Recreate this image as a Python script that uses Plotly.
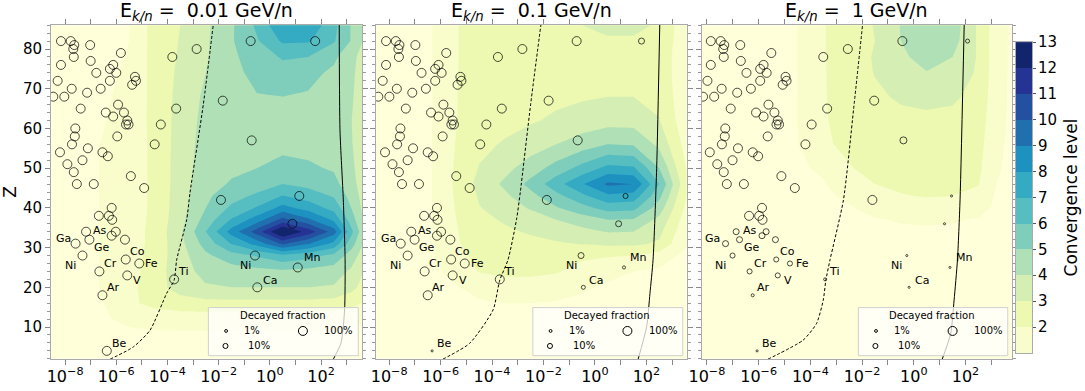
import plotly.graph_objects as go

# ---- contour grids: log10(t_1/2 / Myr) and Z ----
GRID_LOGT = [-8.6, -7.5, -6.5, -5.5, -4.5, -3.5, -2.5, -1.5, -0.5, 0.5, 1.5, 2.5, 3.2, 3.9]
GRID_LOGT_1GEV = [-8.3, -7.5, -6.5, -5.5, -4.5, -3.5, -2.5, -1.5, -0.5, 0.5, 1.5, 2.5, 3.2, 3.9]
GRID_Z = [2, 8, 12, 16, 20, 24, 28, 31, 34, 37, 40, 43, 46, 50, 56, 62, 68, 74, 78, 82, 86]

# convergence level, one row per GRID_Z value
LEVEL_001 = [
    [0.5, 0.5, 0.55, 0.6, 0.6, 0.6, 0.6, 0.6, 0.6, 0.6, 0.6, 0.6, 0.6, 0.5],
    [0.55, 0.6, 0.7, 0.8, 0.85, 0.85, 0.85, 0.85, 0.85, 0.85, 0.85, 0.85, 0.8, 0.7],
    [0.6, 0.7, 0.9, 1.2, 1.35, 1.4, 1.4, 1.4, 1.4, 1.4, 1.4, 1.4, 1.3, 1.0],
    [0.6, 0.75, 1.0, 1.8, 2.3, 2.6, 2.7, 2.7, 2.7, 2.7, 2.7, 2.6, 2.3, 1.7],
    [0.6, 0.75, 1.05, 1.7, 2.6, 3.4, 3.9, 4.0, 4.0, 4.0, 4.0, 3.9, 3.3, 2.3],
    [0.6, 0.75, 1.05, 1.6, 2.5, 3.6, 4.3, 4.5, 4.7, 4.8, 4.7, 4.5, 3.8, 2.6],
    [0.6, 0.75, 1.05, 1.55, 2.4, 3.6, 4.8, 5.6, 6.1, 6.8, 6.35, 5.75, 4.5, 3.0],
    [0.6, 0.75, 1.05, 1.5, 2.3, 3.7, 5.4, 7.05, 8.4, 10.2, 9.1, 7.7, 5.4, 3.2],
    [0.6, 0.75, 1.05, 1.5, 2.3, 3.8, 6.0, 8.4, 10.5, 13.3, 11.6, 9.5, 6.2, 3.3],
    [0.6, 0.75, 1.05, 1.5, 2.25, 3.65, 5.4, 7.1, 8.5, 10.35, 9.2, 7.8, 5.45, 3.2],
    [0.6, 0.75, 1.05, 1.5, 2.2, 3.6, 5.0, 6.2, 7.1, 8.35, 7.6, 6.65, 4.95, 3.1],
    [0.6, 0.75, 1.05, 1.5, 2.2, 3.55, 4.8, 5.6, 6.2, 7.05, 6.55, 5.9, 4.6, 3.1],
    [0.6, 0.75, 1.05, 1.5, 2.2, 3.5, 4.6, 5.1, 5.45, 6.0, 5.7, 5.3, 4.35, 3.05],
    [0.6, 0.75, 1.05, 1.5, 2.2, 3.5, 4.5, 4.8, 5.0, 5.3, 5.15, 4.9, 4.2, 3.0],
    [0.6, 0.75, 1.05, 1.5, 2.2, 3.45, 4.4, 4.6, 4.6, 4.75, 4.7, 4.6, 4.05, 3.0],
    [0.55, 0.7, 0.95, 1.45, 2.25, 3.4, 4.3, 4.55, 4.6, 4.6, 4.6, 4.55, 4.0, 3.0],
    [0.55, 0.65, 0.85, 1.3, 2.3, 3.3, 4.2, 4.6, 4.95, 5.0, 4.9, 4.6, 4.1, 3.1],
    [0.5, 0.6, 0.8, 1.15, 2.35, 3.2, 4.0, 4.7, 5.3, 5.6, 5.3, 4.8, 4.2, 3.1],
    [0.5, 0.6, 0.75, 1.05, 2.4, 3.1, 3.9, 4.8, 5.5, 6.1, 6.0, 5.2, 4.3, 3.2],
    [0.5, 0.6, 0.7, 1.0, 2.4, 3.05, 3.85, 4.9, 5.9, 7.15, 7.1, 6.1, 4.9, 3.4],
    [0.5, 0.6, 0.7, 0.95, 2.45, 3.0, 3.8, 4.85, 6.2, 7.9, 7.8, 6.3, 4.9, 3.5],
]

LEVEL_01 = [
    [0.6, 0.6, 0.6, 0.6, 0.6, 0.6, 0.6, 0.6, 0.6, 0.6, 0.6, 0.6, 0.6, 0.6],
    [0.65, 0.65, 0.65, 0.65, 0.65, 0.65, 0.65, 0.65, 0.65, 0.65, 0.65, 0.65, 0.65, 0.65],
    [0.7, 0.7, 0.7, 0.7, 0.7, 0.7, 0.7, 0.7, 0.7, 0.7, 0.7, 0.7, 0.7, 0.7],
    [0.7, 0.7, 0.7, 0.75, 0.9, 1.0, 1.0, 0.95, 0.85, 0.8, 0.75, 0.7, 0.7, 0.7],
    [0.7, 0.7, 0.7, 0.9, 1.3, 1.5, 1.5, 1.3, 1.1, 0.9, 0.8, 0.75, 0.7, 0.7],
    [0.7, 0.7, 0.75, 1.2, 2.05, 2.25, 2.25, 2.1, 1.6, 1.2, 1.0, 0.85, 0.75, 0.7],
    [0.7, 0.7, 0.8, 1.6, 2.3, 2.4, 2.4, 2.35, 2.2, 2.1, 2.0, 1.6, 1.0, 0.75],
    [0.7, 0.7, 0.8, 1.8, 2.5, 2.6, 2.75, 2.9, 3.05, 3.2, 3.2, 2.85, 1.6, 0.8],
    [0.7, 0.7, 0.8, 1.85, 2.6, 2.85, 3.1, 3.4, 3.7, 4.05, 4.0, 3.25, 1.9, 0.85],
    [0.7, 0.7, 0.8, 1.9, 2.75, 3.1, 3.5, 4.0, 4.5, 5.0, 4.9, 3.75, 2.2, 0.9],
    [0.7, 0.7, 0.8, 1.95, 2.95, 3.45, 4.1, 4.9, 5.65, 6.4, 6.3, 4.5, 2.6, 1.0],
    [0.7, 0.7, 0.8, 2.0, 3.1, 3.8, 4.7, 5.7, 6.75, 7.8, 7.6, 5.25, 3.0, 1.1],
    [0.7, 0.7, 0.8, 2.05, 3.3, 4.2, 5.3, 6.6, 7.9, 9.2, 9.0, 6.0, 3.4, 1.2],
    [0.7, 0.7, 0.8, 2.0, 3.05, 3.7, 4.5, 5.4, 6.35, 7.3, 7.15, 5.0, 2.9, 1.1],
    [0.7, 0.7, 0.8, 1.95, 2.75, 3.1, 3.5, 4.0, 4.5, 5.0, 4.9, 3.75, 2.3, 0.95],
    [0.7, 0.7, 0.8, 1.9, 2.55, 2.7, 2.9, 3.15, 3.4, 3.6, 3.6, 3.05, 1.9, 0.85],
    [0.7, 0.7, 0.8, 1.9, 2.5, 2.55, 2.65, 2.8, 2.9, 3.0, 3.0, 2.7, 1.8, 0.8],
    [0.7, 0.7, 0.8, 1.9, 2.45, 2.5, 2.5, 2.55, 2.6, 2.7, 2.7, 2.55, 1.75, 0.8],
    [0.7, 0.7, 0.8, 1.9, 2.4, 2.45, 2.5, 2.55, 2.6, 2.7, 2.7, 2.55, 1.75, 0.8],
    [0.7, 0.7, 0.8, 1.9, 2.4, 2.45, 2.5, 2.6, 2.75, 2.9, 2.9, 2.7, 1.8, 0.8],
    [0.7, 0.7, 0.8, 1.9, 2.4, 2.45, 2.55, 2.7, 3.0, 3.2, 3.2, 2.9, 1.85, 0.8],
]

LEVEL_1 = [
    [0.6, 0.6, 0.6, 0.6, 0.6, 0.6, 0.6, 0.6, 0.6, 0.6, 0.6, 0.6, 0.6, 0.6],
    [0.65, 0.65, 0.65, 0.65, 0.65, 0.65, 0.65, 0.65, 0.65, 0.65, 0.65, 0.65, 0.65, 0.65],
    [0.7, 0.7, 0.7, 0.7, 0.7, 0.7, 0.7, 0.7, 0.7, 0.7, 0.7, 0.7, 0.7, 0.7],
    [0.7, 0.7, 0.7, 0.7, 0.7, 0.7, 0.7, 0.7, 0.7, 0.7, 0.7, 0.7, 0.7, 0.7],
    [0.7, 0.7, 0.7, 0.7, 0.7, 0.7, 0.7, 0.7, 0.7, 0.7, 0.7, 0.7, 0.7, 0.7],
    [0.7, 0.7, 0.7, 0.7, 0.7, 0.7, 0.7, 0.7, 0.7, 0.7, 0.7, 0.7, 0.7, 0.7],
    [0.7, 0.7, 0.7, 0.7, 0.7, 0.7, 0.7, 0.7, 0.7, 0.7, 0.7, 0.7, 0.7, 0.7],
    [0.7, 0.7, 0.7, 0.7, 0.7, 0.7, 0.75, 0.75, 0.8, 0.8, 0.8, 0.75, 0.7, 0.7],
    [0.7, 0.7, 0.7, 0.7, 0.7, 0.75, 0.8, 0.85, 0.9, 0.9, 0.9, 0.85, 0.75, 0.7],
    [0.7, 0.7, 0.7, 0.7, 0.75, 0.8, 0.85, 0.95, 1.05, 1.1, 1.05, 0.95, 0.8, 0.7],
    [0.7, 0.7, 0.7, 0.75, 0.8, 0.85, 0.95, 1.2, 1.5, 1.6, 1.5, 1.3, 0.85, 0.7],
    [0.7, 0.7, 0.7, 0.75, 0.8, 0.9, 1.1, 1.6, 1.95, 2.05, 2.0, 1.7, 0.9, 0.7],
    [0.7, 0.7, 0.7, 0.8, 0.85, 0.95, 1.4, 2.0, 2.15, 2.2, 2.15, 2.05, 1.0, 0.7],
    [0.7, 0.7, 0.7, 0.8, 0.9, 1.1, 1.95, 2.2, 2.35, 2.4, 2.35, 2.2, 1.1, 0.75],
    [0.7, 0.7, 0.7, 0.8, 0.95, 1.9, 2.15, 2.4, 2.55, 2.6, 2.55, 2.35, 1.2, 0.75],
    [0.7, 0.7, 0.7, 0.8, 1.0, 1.95, 2.2, 2.5, 2.7, 2.8, 2.75, 2.5, 1.3, 0.75],
    [0.7, 0.7, 0.7, 0.8, 1.0, 1.95, 2.3, 2.8, 3.15, 3.25, 3.15, 2.7, 1.35, 0.75],
    [0.7, 0.7, 0.7, 0.8, 1.0, 1.95, 2.35, 3.05, 3.55, 3.95, 3.65, 2.85, 1.4, 0.75],
    [0.7, 0.7, 0.7, 0.8, 1.0, 1.95, 2.4, 3.1, 3.8, 4.4, 4.0, 2.9, 1.4, 0.75],
    [0.7, 0.7, 0.7, 0.8, 1.0, 1.95, 2.45, 3.0, 4.0, 4.7, 4.4, 2.85, 1.4, 0.75],
    [0.7, 0.7, 0.7, 0.8, 1.0, 1.95, 2.5, 3.05, 4.05, 4.9, 4.55, 2.85, 1.45, 0.75],
]

# ---- radioactive isotopes (half-life in Myr, log10) ----
ISO_LOGT = [
    -8.16, -7.78, -7.64, -7.68, -7.02, -7.66, -5.82, -8.16, -7.00, -6.12,
    -6.25, -6.78, -6.00, -8.29, -6.25, -5.27, -5.23, -5.38, -7.74, -6.61,
    -8.46, -8.03, -7.14, -7.39, -5.93, -6.41, -6.12, -5.70, -5.57, -5.62,
    -5.52, -7.60, -3.81, -2.86, -3.66, -4.26, -5.96, -7.62, -7.73, -7.11,
    -6.54, -6.33, -8.20, -7.32, -7.91, -7.66, -4.50, -5.43, -4.91, -7.54,
    -6.88, -6.18, -6.68, -6.29, -6.16, -7.18, -6.02, -6.18, -5.66, -7.59,
    -7.05, -7.32, -5.63, -5.10, -6.66, -5.57, -6.54, -3.74, -6.37, -1.91,
    -0.75, 1.77, -1.84, -0.71, 1.15, 0.88, -0.58, -0.49, 1.09,
]
ISO_Z = [
    82, 82, 81, 80, 81, 78, 79, 76, 77, 76,
    75, 74, 74, 72, 72, 73, 72, 71, 70, 70,
    68, 68, 69, 65, 66, 64, 63, 64, 62, 61,
    61, 60, 78, 80, 65, 61, 58, 58, 56, 55,
    54, 53, 54, 52, 51, 49, 56, 48, 45, 46,
    46, 40, 38, 38, 37, 34, 34, 33, 32, 31,
    32, 28, 27, 26, 24, 23, 18, 22, 4, 42,
    82, 82, 67, 57, 43, 36, 28, 20, 25,
]
# decayed fraction of each isotope at the three energies
DECAYED_001 = [
    1, 1, 1, 1, 1, 1, 1, 1, 1, 1,
    1, 1, 1, 1, 1, 1, 1, 1, 1, 1,
    1, 1, 1, 1, 1, 1, 1, 1, 1, 1,
    1, 1, 1, 1, 1, 1, 1, 1, 1, 1,
    1, 1, 1, 1, 1, 1, 1, 1, 1, 1,
    1, 1, 1, 1, 1, 1, 1, 1, 1, 1,
    1, 1, 1, 1, 1, 1, 1, 1, 1, 1,
    1, 1, 1, 1, 1, 1, 1, 1, 1,
]
DECAYED_01 = [
    1, 1, 1, 1, 1, 1, 1, 1, 1, 1,
    1, 1, 1, 1, 1, 1, 1, 1, 1, 1,
    1, 1, 1, 1, 1, 1, 1, 1, 1, 1,
    1, 1, 1, 1, 1, 1, 1, 1, 1, 1,
    1, 1, 1, 1, 1, 1, 1, 1, 1, 1,
    1, 1, 1, 1, 1, 1, 1, 1, 1, 1,
    1, 1, 1, 1, 1, 1, 1, 1, 0.003, 1,
    1, 0.2, 1, 1, 0.1, 0.2, 0.2, 0.04, 0.015,
]
DECAYED_1 = [
    1, 1, 1, 1, 1, 1, 1, 1, 1, 1,
    1, 1, 1, 1, 1, 1, 1, 1, 1, 1,
    1, 1, 1, 1, 1, 1, 1, 1, 1, 1,
    1, 1, 1, 1, 1, 1, 1, 1, 1, 1,
    1, 1, 1, 1, 1, 1, 1, 1, 1, 1,
    1, 1, 1, 1, 1, 0.2, 0.2, 0.2, 0.2, 0.2,
    0.2, 0.1, 0.1, 0.1, 0.1, 0.1, 0.012, 0.012, 0.003, 1,
    1, 0.04, 1, 0.37, 0.003, 0.003, 0.003, 0.003, 0.003,
]

LABEL_TEXT = ["Ga", "As", "Ge", "Co", "Ni", "Cr", "Fe", "V", "Ar", "Ti", "Be", "Ni", "Ca", "Mn"]
LABEL_LOGT = [-8.08, -6.63, -6.57, -5.19, -7.80, -6.24, -4.61, -5.18, -6.11, -3.38, -5.89, -0.97, 0.0, 1.64]
LABEL_Z = [32.2, 34.2, 30.1, 29.0, 25.6, 26.0, 26.0, 21.8, 20.0, 23.9, 5.9, 25.6, 21.8, 27.5]

# log10 of the time dilation at each energy
LOG_GAMMA = [0.0, 0.04, 0.31]

# boundary curves
DASH_LOGT = [
    [-6.24, -5.33, -4.68, -4.03, -3.74, -3.64, -3.25, -3.12, -2.6, -2.21],
    [-5.91, -4.87, -3.96, -3.70, -3.38, -3.05, -2.9, -2.5, -2.1],
    [-5.64, -4.28, -3.76, -3.5, -3.4, -3.24, -2.72, -2.33, -1.98],
]
DASH_Z = [
    [1.9, 5.0, 9.2, 18.5, 21.8, 26.9, 37, 43.8, 66, 86.1],
    [1.9, 5.9, 14.3, 21.8, 26.9, 37, 44, 66, 86.1],
    [1.9, 6.7, 10.9, 16.8, 21.8, 26.9, 42, 64.7, 86.1],
]
SOLID_LOGT = [
    [2.48, 2.78, 2.92, 2.94, 2.87, 2.74, 2.71],
    [1.68, 2.01, 2.14, 2.26, 2.40, 2.52],
    [1.10, 1.43, 1.56, 1.69, 1.79, 1.95],
]
SOLID_Z = [
    [1.9, 6.0, 14.3, 26.9, 42, 59.6, 86.1],
    [1.9, 10.1, 18.5, 26.9, 50, 86.1],
    [1.9, 8.4, 16.8, 26.9, 42, 86.1],
]

ENERGIES = ["0.01", "0.1", "1"]
LEGEND_FRACTIONS = [0.01, 0.1, 1.0]
LEGEND_LABELS = ["1%", "10%", "100%"]
CBAR_TICKS = [2, 3, 4, 5, 6, 7, 8, 9, 10, 11, 12, 13]

# YlGnBu bands: index 0 = below level 1, index k = band [k, k+1]
BAND_COLORS = ["#ffffd9", "#f9fdcc", "#edf8b1", "#d4eeb3", "#afe0b6", "#7fcdbb", "#56bec1",
               "#35aac3", "#1d91c0", "#2070b0", "#2350a1", "#253494", "#12256c"]

FONT = "DejaVu Sans"
W, H = 1085, 391
PANEL_PX = [(51, 362), (375.5, 686.5), (701.5, 1011.5)]
X_RANGES = [[-8.55, 3.6], [-8.53, 3.56], [-8.21, 3.78]]
Y_RANGE = [1.95, 86.05]
Y_DOM = [(H - 359) / H, (H - 25) / H]

def marker_d(f):
    return 9 * f ** 0.25

# contour colorscale so that band k is coloured at k/13 (plotly fill rule)
contour_scale = [[k / 13, c] for k, c in enumerate(BAND_COLORS)] + [[1.0, BAND_COLORS[-1]]]

fig = go.Figure()
grids = [GRID_LOGT, GRID_LOGT, GRID_LOGT_1GEV]
levels = [LEVEL_001, LEVEL_01, LEVEL_1]
decayed = [DECAYED_001, DECAYED_01, DECAYED_1]
shapes = []
annotations = []

for p in range(3):
    sfx = "" if p == 0 else str(p + 1)
    xa, ya = "x" + sfx, "y" + sfx
    fig.add_trace(go.Contour(
        x=grids[p], y=GRID_Z, z=levels[p], xaxis=xa, yaxis=ya,
        autocontour=False,
        contours=dict(start=1, end=13, size=1, coloring="fill", showlines=False),
        colorscale=contour_scale, showscale=False, line=dict(width=0, smoothing=0),
        hoverinfo="skip",
    ))
    fig.add_trace(go.Scatter(
        x=DASH_LOGT[p], y=DASH_Z[p], xaxis=xa, yaxis=ya, mode="lines",
        line=dict(color="black", width=1, dash="3px,2px", shape="spline", smoothing=0.6),
        showlegend=False, hoverinfo="skip",
    ))
    fig.add_trace(go.Scatter(
        x=SOLID_LOGT[p], y=SOLID_Z[p], xaxis=xa, yaxis=ya, mode="lines",
        line=dict(color="black", width=1, shape="spline", smoothing=0.6),
        showlegend=False, hoverinfo="skip",
    ))
    fig.add_trace(go.Scatter(
        x=[v + LOG_GAMMA[p] for v in ISO_LOGT], y=ISO_Z, xaxis=xa, yaxis=ya, mode="markers",
        marker=dict(symbol="circle-open", color="black", size=[marker_d(f) for f in decayed[p]],
                    line=dict(width=1, color="black")),
        showlegend=False, hoverinfo="skip",
    ))
    for t, lx, lz in zip(LABEL_TEXT, LABEL_LOGT, LABEL_Z):
        annotations.append(dict(x=lx + LOG_GAMMA[p], y=lz, xref=xa, yref=ya, text=t,
                                xanchor="center", yanchor="middle",
                                showarrow=False, font=dict(size=11, color="black")))

    x0, x1 = PANEL_PX[p]
    cx = (x0 + x1) / 2 / W
    # panel title
    annotations.append(dict(
        x=cx, y=(H - 12) / H, xref="paper", yref="paper", xanchor="center", yanchor="middle",
        text="E<sub><i>k/n</i></sub> =\u00a0\u00a0" + ENERGIES[p] + " GeV/n",
        showarrow=False, font=dict(size=19, color="black")))
    # x title (cut by the figure bottom, as in the original)
    annotations.append(dict(
        x=cx, y=5 / H, xref="paper", yref="paper", xanchor="center", yanchor="top",
        text="<i>t</i><sub>1/2</sub> [Myr]", showarrow=False, font=dict(size=19, color="black")))

    # decayed-fraction legend box
    dx, dy = xa + " domain", ya + " domain"
    shapes.append(dict(type="rect", xref=dx, yref=dy, x0=0.506, x1=0.988, y0=0.01, y1=0.154,
                       fillcolor="rgba(255,255,255,0.75)", line=dict(color="#d0d0d0", width=1),
                       layer="above"))
    annotations.append(dict(x=0.745, y=0.129, xref=dx, yref=dy, text="Decayed fraction",
                            xanchor="center", yanchor="middle",
                            showarrow=False, font=dict(size=10, color="black")))
    for f, lab, mx, my, tx in zip(LEGEND_FRACTIONS, LEGEND_LABELS,
                                  [0.563, 0.561, 0.81], [0.084, 0.039, 0.084],
                                  [0.647, 0.67, 0.925]):
        r = marker_d(f) / 2
        shapes.append(dict(type="circle", xref=dx, yref=dy, xsizemode="pixel", ysizemode="pixel",
                           xanchor=mx, yanchor=my, x0=-r, x1=r, y0=-r, y1=r,
                           line=dict(color="black", width=1), layer="above"))
        annotations.append(dict(x=tx, y=my, xref=dx, yref=dy, text=lab, showarrow=False,
                                xanchor="center", yanchor="middle",
                                font=dict(size=10, color="black")))

# colour bar drawn as a one-column heatmap on its own axis
cbar_scale = [[(k - 1) / 11, BAND_COLORS[k]] for k in range(1, 13)]
fig.add_trace(go.Heatmap(
    x=[0.5], y=[k + 0.5 for k in range(1, 13)], z=[[k] for k in range(1, 13)],
    xaxis="x4", yaxis="y4", zmin=1, zmax=12, colorscale=cbar_scale, showscale=False,
    hoverinfo="skip",
))

layout = dict(
    width=W, height=H, margin=dict(l=0, r=0, t=0, b=0, autoexpand=False),
    paper_bgcolor="white", plot_bgcolor="white",
    font=dict(family=FONT, color="black"), showlegend=False,
    shapes=shapes, annotations=annotations,
)
xticktext = [("10<sup>\u2212" + str(-v) + "</sup>" if v < 0 else "10<sup>" + str(v) + "</sup>")
             for v in range(-8, 4, 2)]
for p in range(3):
    sfx = "" if p == 0 else str(p + 1)
    x0, x1 = PANEL_PX[p]
    layout["xaxis" + sfx] = dict(
        domain=[x0 / W, x1 / W], range=X_RANGES[p], anchor="y" + sfx, automargin=False,
        tickmode="array", tickvals=list(range(-8, 4, 2)), ticktext=xticktext,
        ticks="outside", ticklen=5, tickcolor="#888", showline=True, linecolor="#aaa",
        linewidth=1, mirror="ticks", showgrid=False, zeroline=False,
        tickfont=dict(size=16, color="black"), ticklabelstandoff=-2,
        minor=dict(tickmode="array", tickvals=[-7, -5, -3, -1, 1, 3], ticklen=5,
                   ticks="outside", tickcolor="#888", showgrid=False),
    )
    layout["yaxis" + sfx] = dict(
        domain=Y_DOM, range=Y_RANGE, anchor="x" + sfx, automargin=False,
        tickmode="array", tickvals=[10, 20, 30, 40, 50, 60, 70, 80],
        ticks="outside", ticklen=5, tickcolor="#888", showline=True, linecolor="#aaa",
        linewidth=1, mirror="ticks", showgrid=False, zeroline=False,
        showticklabels=(p == 0), tickfont=dict(size=15, color="black"),
        minor=dict(dtick=2, ticklen=3, ticks="outside", tickcolor="#999", showgrid=False),
        title=dict(text="Z", font=dict(size=17), standoff=10) if p == 0 else None,
    )
layout["xaxis4"] = dict(domain=[1016 / W, 1032 / W], range=[0, 1], anchor="y4", automargin=False,
                        showticklabels=False, ticks="", showgrid=False, zeroline=False,
                        showline=True, linecolor="#aaa", mirror=True)
layout["yaxis4"] = dict(domain=[(H - 352.9) / H, (H - 42.1) / H], range=[1, 13], anchor="x4",
                        automargin=False, side="right", tickmode="array", tickvals=CBAR_TICKS,
                        ticks="outside", ticklen=3, tickcolor="#555", showgrid=False,
                        zeroline=False, showline=True, linecolor="#aaa", mirror=True,
                        tickfont=dict(size=15, color="black"), ticklabelstandoff=-1,
                        title=dict(text="Convergence level", font=dict(size=17), standoff=9))
fig.update_layout(**layout)

# the page body has a default 8px margin; remove it so the figure fills the window
fig.write_html("out.html", config={"displayModeBar": False},
               post_script="document.body.style.margin='0px';")
